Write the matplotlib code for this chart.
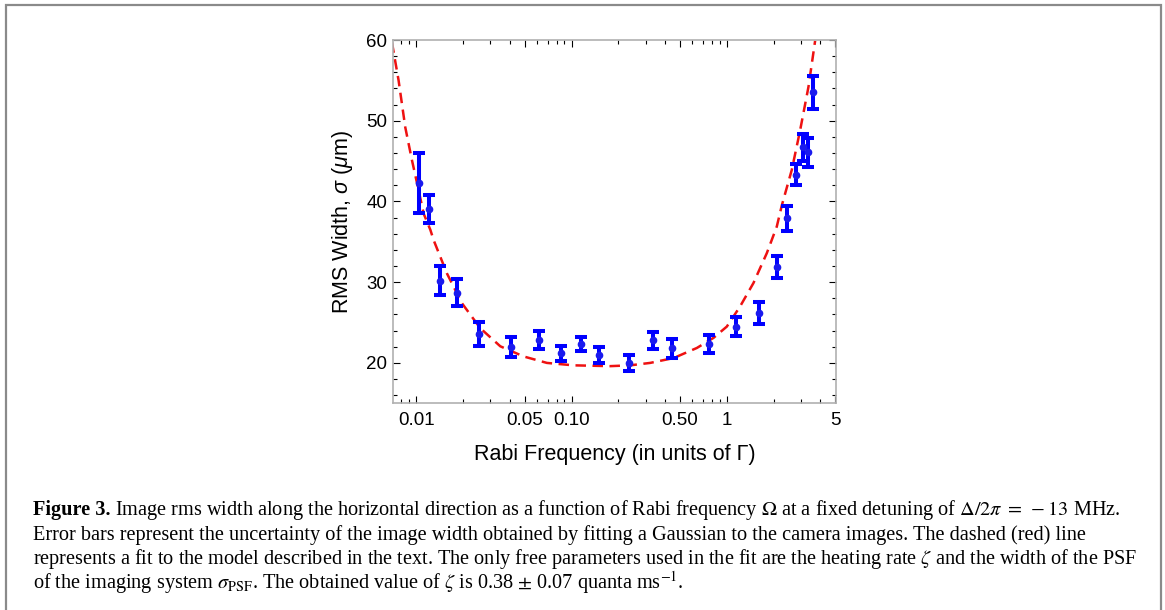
import matplotlib
matplotlib.use("Agg")
import matplotlib.pyplot as plt
from matplotlib.ticker import FixedLocator, FixedFormatter
from matplotlib.patches import Rectangle

# Data
rabi = [0.01045, 0.01207, 0.01429, 0.01836, 0.0253, 0.0409, 0.0613, 0.0858,
        0.1153, 0.150, 0.235, 0.3356, 0.4446, 0.7697, 1.148, 1.607, 2.10,
        2.43, 2.78, 3.116, 3.34, 3.58]
width = [42.3, 39.1, 30.2, 28.7, 23.6, 22.0, 22.8, 21.2, 22.35, 21.0, 20.0,
         22.8, 21.8, 22.35, 24.5, 26.2, 31.85, 37.9, 43.3, 46.7, 46.1, 53.5]
width_err = [3.7, 1.75, 1.8, 1.7, 1.45, 1.25, 1.1, 0.95, 0.9, 1.0, 0.95,
             1.05, 1.15, 1.1, 1.15, 1.35, 1.35, 1.55, 1.3, 1.7, 1.8, 2.1]

# dashed fit curve
fit_x = [0.00697, 0.00769, 0.00849, 0.00938, 0.01035, 0.01115, 0.01231, 0.01294,
         0.01574, 0.01967, 0.02583, 0.03475, 0.04911, 0.06937, 0.103, 0.1774,
         0.2388, 0.3209, 0.4539, 0.6412, 0.8207, 1.0, 1.218, 1.485, 1.810,
         2.099, 2.26, 2.62, 2.965, 3.357, 3.705]
fit_y = [59.7, 55.0, 49.2, 45.1, 41.4, 38.5, 36.5, 35.2, 31.1, 27.4, 24.3,
         22.06, 20.8, 20.0, 19.7, 19.6, 19.7, 20.0, 20.6, 21.85, 23.1, 24.5,
         27.0, 29.9, 33.6, 36.9, 39.5, 43.9, 48.8, 54.2, 59.9]

x_major = [0.01, 0.05, 0.1, 0.5, 1, 5]
x_labels = ['0.01', '0.05', '0.10', '0.50', '1', '5']
x_minor = [0.007, 0.008, 0.009, 0.02, 0.03, 0.04, 0.06, 0.07, 0.08, 0.09,
           0.2, 0.3, 0.4, 0.6, 0.7, 0.8, 0.9, 2, 3, 4]

caption_bold = 'Figure 3.'
caption_lines = [
    r' Image rms width along the horizontal direction as a function of Rabi frequency $\Omega$ at a fixed detuning of $\Delta/2\pi\;=\;-13$ MHz.',
    'Error bars represent the uncertainty of the image width obtained by fitting a Gaussian to the camera images. The dashed (red) line',
    r'represents a fit to the model described in the text. The only free parameters used in the fit are the heating rate $\zeta$ and the width of the PSF',
    r'of the imaging system $\sigma_{\rm PSF}$. The obtained value of $\zeta$ is 0.38 $\pm$ 0.07 quanta ms$^{-1}$.',
]

plt.rcParams['font.family'] = ['Liberation Sans', 'DejaVu Sans']
plt.rcParams['mathtext.fontset'] = 'custom'
plt.rcParams['mathtext.rm'] = 'Liberation Sans'
plt.rcParams['mathtext.it'] = 'Liberation Sans:italic'

fig = plt.figure(figsize=(11.65, 6.10), dpi=100)
ax = fig.add_axes([0.3371, 0.3389, 0.3805, 0.5955])

ax.plot(fit_x, fit_y, color='#ee1111', linestyle=(0, (4.2, 2.6)), linewidth=1.8, zorder=2)
ax.errorbar(rabi, width, yerr=width_err, fmt='o', color='#1a1aee', markersize=4.5,
            ecolor='#0000ff', elinewidth=2.9, capsize=4.3, capthick=2.9, zorder=3)

ax.set_xscale('log')
ax.set_xlim(0.00705, 5.05)
ax.set_ylim(15, 60)

ax.xaxis.set_major_locator(FixedLocator(x_major))
ax.xaxis.set_major_formatter(FixedFormatter(x_labels))
ax.xaxis.set_minor_locator(FixedLocator(x_minor))
ax.xaxis.set_minor_formatter(FixedFormatter([''] * len(x_minor)))
ax.set_yticks([20, 30, 40, 50, 60])
ax.set_yticks(range(16, 60, 2), minor=True)

ax.tick_params(which='both', direction='in', top=True, right=True, color='black',
               width=0.8, labelsize=13.5)
ax.tick_params(which='major', length=5)
ax.tick_params(which='minor', length=3)
ax.tick_params(axis='x', pad=6)
ax.tick_params(axis='y', pad=4)
for s in ax.spines.values():
    s.set_color('#b0b0b0')
    s.set_linewidth(1.2)

ax.set_xlabel('Rabi Frequency (in units of Γ)', fontsize=15.5, labelpad=11)
ax.set_ylabel(r'RMS Width, $\sigma$ ($\mu$m)', fontsize=15.5, labelpad=8,
              math_fontfamily='custom')

# caption
cap_size = 14.6
serif = ['Liberation Serif', 'DejaVu Serif']
cap_x = 0.0283
line_y = [0.1550, 0.1153, 0.0756, 0.0359]
t0 = fig.text(cap_x, line_y[0], caption_bold, fontsize=cap_size, family=serif,
              fontweight='bold', va='baseline')
renderer = fig.canvas.get_renderer()
bold_end = fig.transFigure.inverted().transform(
    (t0.get_window_extent(renderer).x1, 0))[0]
fig.text(bold_end, line_y[0], caption_lines[0], fontsize=cap_size, family=serif,
         va='baseline', math_fontfamily='stix')
for txt, yy in zip(caption_lines[1:], line_y[1:]):
    fig.text(cap_x, yy, txt, fontsize=cap_size, family=serif, va='baseline',
             math_fontfamily='stix')

fig.patches.append(Rectangle((0.0052, -0.01), 0.9914, 1.002, transform=fig.transFigure,
                             fill=False, edgecolor='#8a8a8a', linewidth=1.6))

fig.savefig('out.png', dpi=100)
